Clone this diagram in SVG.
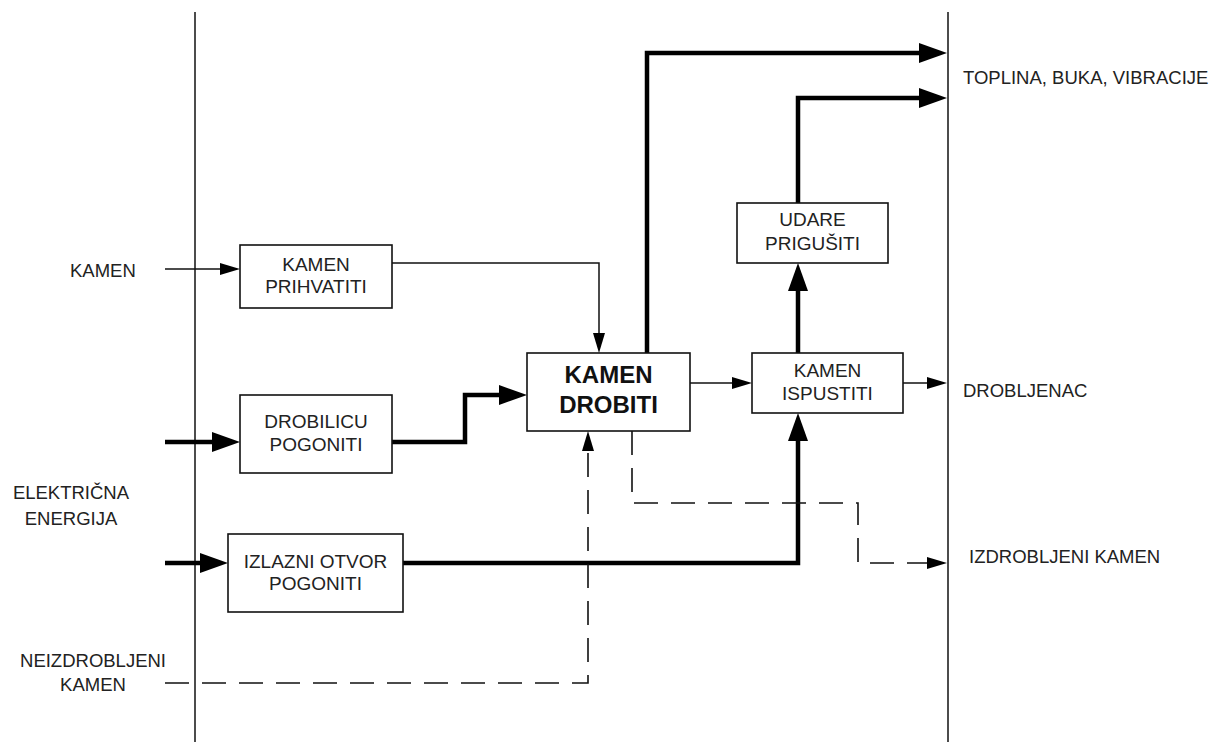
<svg xmlns="http://www.w3.org/2000/svg" width="1218" height="742" viewBox="0 0 1218 742">
<style>
.box{fill:#fff;stroke:#111;stroke-width:1.6}
.t{font-family:"Liberation Sans",Arial,sans-serif;font-size:19px;fill:#222;text-anchor:middle}
.tb{font-family:"Liberation Sans",Arial,sans-serif;font-size:24px;font-weight:bold;fill:#111;text-anchor:middle}
.lbl{font-family:"Liberation Sans",Arial,sans-serif;font-size:18.5px;fill:#222}
.lc{font-family:"Liberation Sans",Arial,sans-serif;font-size:18.5px;fill:#222;text-anchor:middle}
.thin{fill:none;stroke:#111;stroke-width:1.5}
.thick{fill:none;stroke:#000;stroke-width:4.5;stroke-linejoin:miter}
.dash{fill:none;stroke:#111;stroke-width:1.6;stroke-dasharray:24 13}
.frame{stroke:#111;stroke-width:1.5}
</style>
<defs>
<marker id="a" markerUnits="userSpaceOnUse" markerWidth="20" markerHeight="12" refX="0" refY="6" orient="auto">
<path d="M0,0 L20,6 L0,12 z" fill="#000"/>
</marker>
<marker id="A" markerUnits="userSpaceOnUse" markerWidth="28" markerHeight="20" refX="0" refY="10" orient="auto">
<path d="M0,0 L28,10 L0,20 z" fill="#000"/>
</marker>
</defs>
<rect width="1218" height="742" fill="#fff"/>
<g id="frame">
<line class="frame" x1="195" y1="12" x2="195" y2="742"/>
<line class="frame" x1="948" y1="12" x2="948" y2="742"/>
</g>
<g id="connectors">
<path class="thin" d="M165,269 H220" marker-end="url(#a)"/>
<path class="thin" d="M392,263 H599 V333" marker-end="url(#a)"/>
<path class="thick" d="M165,442 H212" marker-end="url(#A)"/>
<path class="thick" d="M392,442 H465 V395 H499" marker-end="url(#A)"/>
<path class="thick" d="M165,563 H200" marker-end="url(#A)"/>
<path class="thick" d="M403,563 H798 V441" marker-end="url(#A)"/>
<path class="thick" d="M647,353 V53 H919" marker-end="url(#A)"/>
<path class="thin" d="M690,383 H732" marker-end="url(#a)"/>
<path class="thin" d="M903,383 H927" marker-end="url(#a)"/>
<path class="thick" d="M798,353 V291" marker-end="url(#A)"/>
<path class="thick" d="M798,203 V98 H919" marker-end="url(#A)"/>
<path class="dash" d="M165,683 H588 V451" marker-end="url(#a)"/>
<path class="dash" d="M632,431 V503 H858 V563 H927" marker-end="url(#a)"/>
</g>
<g id="n-prihvatiti">
<rect class="box" x="240" y="245" width="152" height="63"/>
<text class="t" x="316" y="271">KAMEN</text>
<text class="t" x="316" y="293">PRIHVATITI</text>
</g>
<g id="n-drobilicu">
<rect class="box" x="240" y="395" width="152" height="78"/>
<text class="t" x="316" y="428">DROBILICU</text>
<text class="t" x="316" y="451">POGONITI</text>
</g>
<g id="n-izlazni">
<rect class="box" x="228" y="534" width="175" height="78"/>
<text class="t" x="315.5" y="568">IZLAZNI OTVOR</text>
<text class="t" x="315.5" y="590">POGONITI</text>
</g>
<g id="n-drobiti">
<rect class="box" x="527" y="353" width="163" height="78"/>
<text class="tb" x="608.5" y="383">KAMEN</text>
<text class="tb" x="608.5" y="413">DROBITI</text>
</g>
<g id="n-ispustiti">
<rect class="box" x="752" y="353" width="151" height="60"/>
<text class="t" x="827.5" y="377">KAMEN</text>
<text class="t" x="827.5" y="400">ISPUSTITI</text>
</g>
<g id="n-udare">
<rect class="box" x="737" y="203" width="151" height="60"/>
<text class="t" x="812.5" y="226">UDARE</text>
<text class="t" x="812.5" y="250">PRIGUŠITI</text>
</g>
<g id="labels">
<text class="lbl" x="70" y="277">KAMEN</text>
<text class="lc" x="71" y="499">ELEKTRIČNA</text>
<text class="lc" x="71" y="525">ENERGIJA</text>
<text class="lc" x="93" y="667">NEIZDROBLJENI</text>
<text class="lc" x="93" y="691">KAMEN</text>
<text class="lbl" x="963" y="84">TOPLINA, BUKA, VIBRACIJE</text>
<text class="lbl" x="963" y="397">DROBLJENAC</text>
<text class="lbl" x="969" y="563">IZDROBLJENI KAMEN</text>
</g>
</svg>
